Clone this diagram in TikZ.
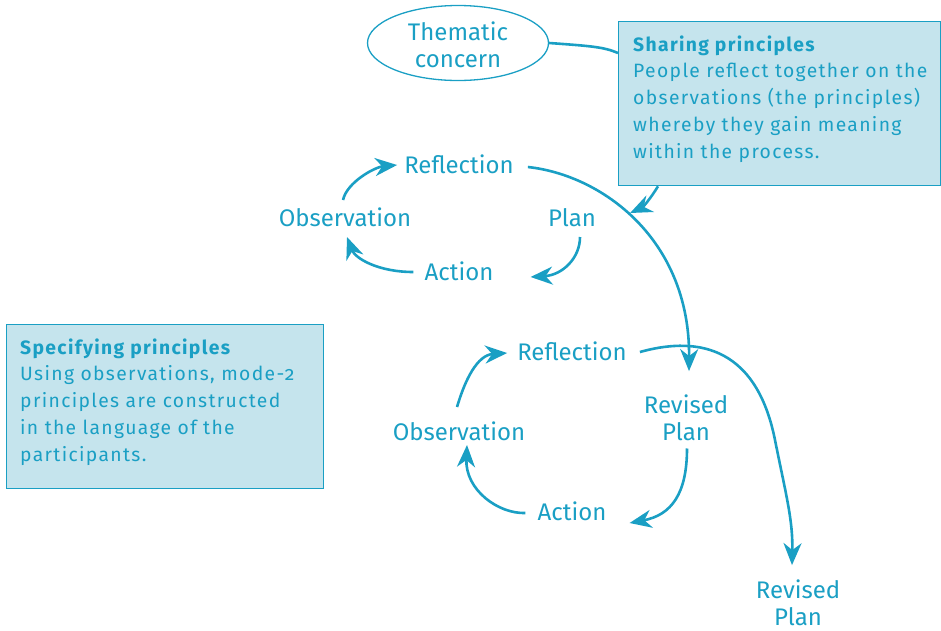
\documentclass[tikz,border=0pt]{standalone}
\usepackage{fontspec}
\setmainfont{Fira Sans}[Numbers=OldStyle]
\newfontfamily\boxfont{Fira Sans}[LetterSpace=7,Numbers=OldStyle]
\usetikzlibrary{arrows.meta,calc,shapes.geometric}
\definecolor{cblue}{HTML}{1A9FC4}
\definecolor{cfill}{HTML}{C5E4ED}
\begin{document}
\begin{tikzpicture}[x=1pt,y=-1pt,
  lbl/.style={text=cblue,inner sep=0pt,anchor=base,align=center,font=\fontsize{24}{27}\selectfont},
  arr/.style={draw=cblue,line width=2.6pt,-{Stealth[length=22pt,width=18pt,inset=7pt]}},
  infobox/.style={draw=cblue,line width=1.3pt,fill=cfill,inner sep=0pt,anchor=north west},
  boxtext/.style={text=cblue,inner sep=0pt,anchor=base west,align=left,font=\boxfont\fontsize{19.3}{26.7}\selectfont}]
\useasboundingbox (0,0) rectangle (941,630);
% thematic concern
\node[ellipse,draw=cblue,line width=1.3pt,minimum width=181pt,minimum height=75pt,inner sep=0pt] (theme) at (458,43) {};
\node[lbl] (themetxt) at (theme.center) [yshift=-24pt] {Thematic\\concern};
% info boxes
\node[infobox,minimum width=322pt,minimum height=164pt] (share) at (618,21) {};
\node[boxtext] (sharetxt) at (633,158) {\textbf{Sharing principles}\\People reflect together on the\\observations (the principles)\\whereby they gain meaning\\within the process.};
\node[infobox,minimum width=317pt,minimum height=164pt] (spec) at (6,324) {};
\node[boxtext] (spectxt) at (20,461) {\textbf{Specifying principles}\\Using observations, mode-2\\principles are constructed\\in the language of the\\participants.};
% loop 1
\node[lbl] (refl1) at (459,173) {Reflection};
\node[lbl] (obs1) at (345,226) {Observation};
\node[lbl] (plan1) at (572,226) {Plan};
\node[lbl] (act1) at (459,280) {Action};
% loop 2
\node[lbl] (refl2) at (572,360) {Reflection};
\node[lbl] (obs2) at (459,440) {Observation};
\node[lbl] (rplan2) at (686,440) {Revised\\Plan};
\node[lbl] (act2) at (572,520) {Action};
\node[lbl] (rplan3) at (798,625) {Revised\\Plan};
% connectors
\draw[draw=cblue,line width=2.6pt] (theme.east) .. controls +(42,3) and +(-14,-6) .. ($(share.north west)+(0,32)$);
\draw[arr] ($(share.south west)+(40,0)$) .. controls +(-8,13) and +(13,-6) .. ($(plan1.base east)+(34,-13)$);
\draw[arr] ($(obs1.base)+(-2,-26)$) .. controls +(4,-18) and +(-22,2) .. ($(refl1.base west)+(-7,-8)$);
\draw[arr] ($(plan1.base)+(8,11)$) .. controls +(0,21) and +(32,-2) .. ($(act1.base east)+(37,-3)$);
\draw[arr] ($(act1.base west)+(-11,-8)$) .. controls +(-36,0) and +(8,21) .. ($(obs1.base)+(2,11)$);
\draw[arr] ($(refl1.base east)+(14,-6)$) .. controls +(74,8) and +(1,-132) .. ($(rplan2.north)+(3,-23)$);
\draw[arr] ($(obs2.base)+(-2,-33)$) .. controls +(8,-27) and +(-30,2) .. ($(refl2.base west)+(-10,-7)$);
\draw[arr] ($(rplan2.south)+(1,8)$) .. controls +(0,45) and +(42,-8) .. ($(act2.base east)+(23,3)$);
\draw[arr] ($(act2.base west)+(-12,-7)$) .. controls +(-27,1) and +(-2,45) .. ($(obs2.base)+(8,5)$);
\draw[arr] ($(refl2.base east)+(13,-8)$) .. controls (690,338) and (755,340) .. (775,440) .. controls (786,495) and (793,520) .. ($(rplan3.north)+(-6,-14)$);
\end{tikzpicture}
\end{document}
